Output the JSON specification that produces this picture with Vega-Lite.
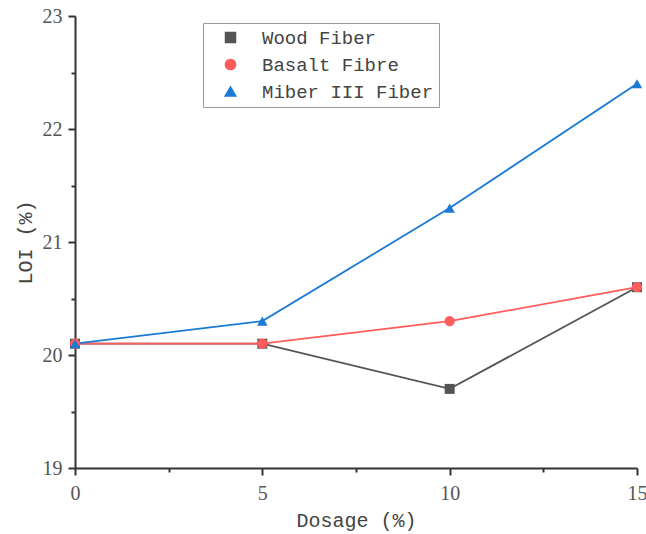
{
  "$schema": "https://vega.github.io/schema/vega-lite/v6.json",
  "width": 562,
  "height": 452,
  "autosize": "none",
  "padding": {"left": 75, "top": 16, "right": 9, "bottom": 66},
  "background": "white",
  "config": {"view": {"stroke": null}},
  "data": {
    "values": [
      {"dosage": 0, "loi": 20.1, "series": "Wood Fiber"},
      {"dosage": 5, "loi": 20.1, "series": "Wood Fiber"},
      {"dosage": 10, "loi": 19.7, "series": "Wood Fiber"},
      {"dosage": 15, "loi": 20.6, "series": "Wood Fiber"},
      {"dosage": 0, "loi": 20.1, "series": "Basalt Fibre"},
      {"dosage": 5, "loi": 20.1, "series": "Basalt Fibre"},
      {"dosage": 10, "loi": 20.3, "series": "Basalt Fibre"},
      {"dosage": 15, "loi": 20.6, "series": "Basalt Fibre"},
      {"dosage": 0, "loi": 20.1, "series": "Miber III Fiber"},
      {"dosage": 5, "loi": 20.3, "series": "Miber III Fiber"},
      {"dosage": 10, "loi": 21.3, "series": "Miber III Fiber"},
      {"dosage": 15, "loi": 22.4, "series": "Miber III Fiber"}
    ]
  },
  "encoding": {
    "x": {
      "field": "dosage", "type": "quantitative",
      "scale": {"domain": [0, 15], "nice": false, "zero": false},
      "axis": {
        "title": "Dosage (%)",
        "values": [0, 2.5, 5, 7.5, 10, 12.5, 15],
        "labelExpr": "datum.value % 5 === 0 ? format(datum.value, 'd') : ''",
        "grid": false,
        "domainColor": "#333333", "domainWidth": 2,
        "tickColor": "#333333", "tickWidth": 2,
        "tickSize": {"condition": {"test": "datum.value % 5 !== 0", "value": 4}, "value": 7},
        "labelFont": "Liberation Serif", "labelFontSize": 20, "labelColor": "#555555",
        "labelPadding": 8, "labelFlush": false,
        "titleFont": "Liberation Mono", "titleFontSize": 20, "titleColor": "#444444",
        "titleFontWeight": "normal", "titlePadding": 7
      }
    },
    "y": {
      "field": "loi", "type": "quantitative",
      "scale": {"domain": [19, 23], "nice": false, "zero": false},
      "axis": {
        "title": "LOI (%)",
        "values": [19, 19.5, 20, 20.5, 21, 21.5, 22, 22.5, 23],
        "labelExpr": "datum.value % 1 === 0 ? format(datum.value, 'd') : ''",
        "grid": false,
        "domainColor": "#333333", "domainWidth": 2,
        "tickColor": "#333333", "tickWidth": 2,
        "tickSize": {"condition": {"test": "datum.value % 1 !== 0", "value": 4}, "value": 7},
        "labelFont": "Liberation Serif", "labelFontSize": 20, "labelColor": "#555555",
        "labelPadding": 6,
        "titleFont": "Liberation Mono", "titleFontSize": 20, "titleColor": "#444444",
        "titleFontWeight": "normal", "titlePadding": 7
      }
    },
    "color": {
      "field": "series", "type": "nominal",
      "scale": {
        "domain": ["Wood Fiber", "Basalt Fibre", "Miber III Fiber"],
        "range": ["#555555", "#ff5c5c", "#1a7ad4"]
      },
      "legend": {
        "title": null,
        "orient": "none",
        "legendX": 128,
        "legendY": 7,
        "fillColor": "white",
        "strokeColor": "#999999",
        "padding": 5,
        "rowPadding": 7,
        "symbolSize": 110,
        "symbolOffset": 13,
        "labelOffset": 22,
        "labelFont": "Liberation Mono",
        "labelFontSize": 19,
        "labelColor": "#444444",
        "labelLimit": 300
      }
    }
  },
  "layer": [
    {
      "mark": {"type": "line", "strokeWidth": 1.8},
      "encoding": {"detail": {"field": "series"}}
    },
    {
      "mark": {"type": "point", "filled": true, "opacity": 1},
      "encoding": {
        "shape": {
          "field": "series", "type": "nominal",
          "scale": {"domain": ["Wood Fiber", "Basalt Fibre", "Miber III Fiber"], "range": ["square", "circle", "triangle-up"]},
          "legend": null
        },
        "size": {
          "field": "series", "type": "nominal",
          "scale": {"domain": ["Wood Fiber", "Basalt Fibre", "Miber III Fiber"], "range": [100, 110, 190]},
          "legend": null
        }
      }
    }
  ]
}
